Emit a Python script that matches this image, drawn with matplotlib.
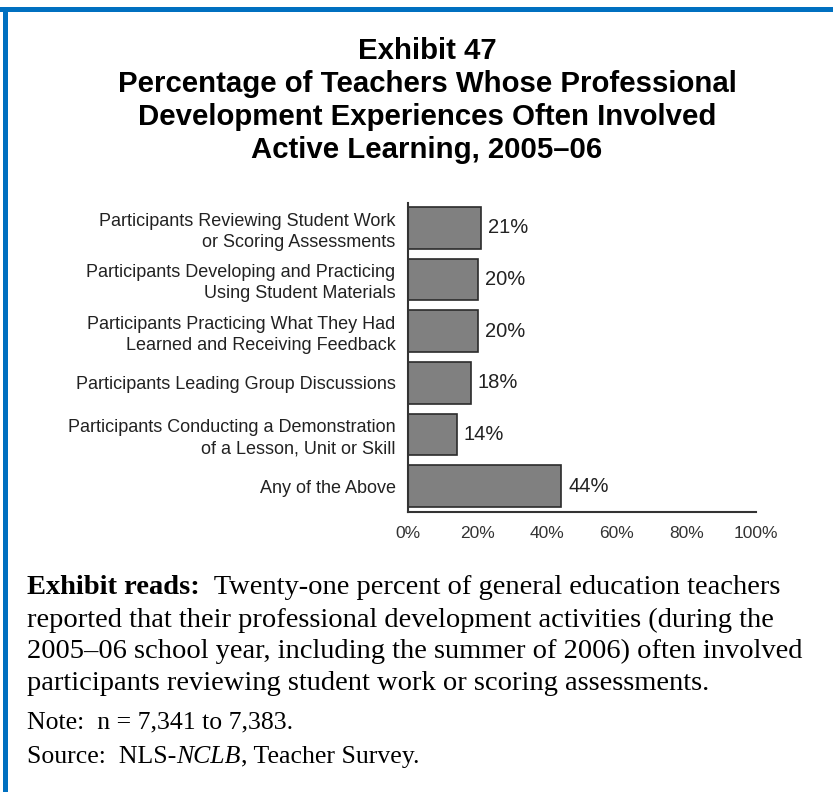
import matplotlib.pyplot as plt
from matplotlib.patches import Rectangle

categories = [
    "Participants Reviewing Student Work\nor Scoring Assessments",
    "Participants Developing and Practicing\nUsing Student Materials",
    "Participants Practicing What They Had\nLearned and Receiving Feedback",
    "Participants Leading Group Discussions",
    "Participants Conducting a Demonstration\nof a Lesson, Unit or Skill",
    "Any of the Above",
]
values = [21, 20, 20, 18, 14, 44]
xticks = [0, 20, 40, 60, 80, 100]

W, H = 833, 792
fig = plt.figure(figsize=(W / 100, H / 100), dpi=100)
fig.patch.set_facecolor("white")

# blue frame (top and left only)
blue = "#0070C0"
fig.add_artist(Rectangle((0, 1 - 12 / H), 1, 5 / H, transform=fig.transFigure,
                         color=blue, lw=0))
fig.add_artist(Rectangle((3 / W, 0), 5 / W, 1 - 7 / H, transform=fig.transFigure,
                         color=blue, lw=0))

sans = "Liberation Sans"
serif = "Liberation Serif"

title_lines = ["Exhibit 47", "Percentage of Teachers Whose Professional",
               "Development Experiences Often Involved",
               "Active Learning, 2005\u201306"]
for i, ln in enumerate(title_lines):
    fig.text(427 / W, 1 - (48 + 33 * i) / H, ln, ha="center", va="center_baseline",
             fontsize=21.2, fontweight="bold", family=sans)

ax = fig.add_axes([408 / W, 1 - 512 / H, 348 / W, 309 / H])
ypos = list(range(len(values)))
ax.barh(ypos, values, height=0.81, color="#808080", edgecolor="#2b2b2b",
        linewidth=1.2)
for y, v in zip(ypos, values):
    ax.text(v + 2.0, y, f"{v}%", va="center", ha="left", fontsize=14.5,
            family=sans, color="#222222")

ax.set_xlim(0, 100)
ax.set_ylim(5.5, -0.48)
ax.set_yticks(ypos)
ax.set_yticklabels(categories, fontsize=13, family=sans, color="#222222",
                   ha="right", linespacing=1.3)
ax.set_xticks(xticks)
ax.set_xticklabels([f"{t}%" for t in xticks], fontsize=12.5, family=sans,
                   color="#333333")
ax.tick_params(axis="both", length=0)
ax.tick_params(axis="x", pad=10)
ax.tick_params(axis="y", pad=9)
for s in ["top", "right"]:
    ax.spines[s].set_visible(False)
for s in ["left", "bottom"]:
    ax.spines[s].set_color("#333333")
    ax.spines[s].set_linewidth(1.5)

# footer
fx = 27 / W
fs = 20.5
renderer = fig.canvas.get_renderer()


def run(x, y, parts, size):
    # draw text pieces side by side: (text, weight, style)
    for txt, wt, st in parts:
        t = fig.text(x, y, txt, fontsize=size, family=serif, fontweight=wt,
                     fontstyle=st, va="center", ha="left")
        bb = t.get_window_extent(renderer)
        x += bb.width / W


run(fx, 1 - 588 / H, [("Exhibit reads:", "bold", "normal"),
                      ("  Twenty-one percent of general education teachers",
                       "normal", "normal")], fs)
lines = [
    "reported that their professional development activities (during the",
    "2005\u201306 school year, including the summer of 2006) often involved",
    "participants reviewing student work or scoring assessments.",
]
for i, ln in enumerate(lines):
    fig.text(fx, 1 - (620 + 31.5 * i) / H, ln, fontsize=fs, family=serif,
             va="center", ha="left")
run(fx, 1 - 722 / H, [("Note:  n = 7,341 to 7,383.", "normal", "normal")], 18.5)
run(fx, 1 - 757 / H, [("Source:  NLS-", "normal", "normal"),
                      ("NCLB", "normal", "italic"),
                      (", Teacher Survey.", "normal", "normal")], 18.5)

fig.savefig("out.png", dpi=100)
